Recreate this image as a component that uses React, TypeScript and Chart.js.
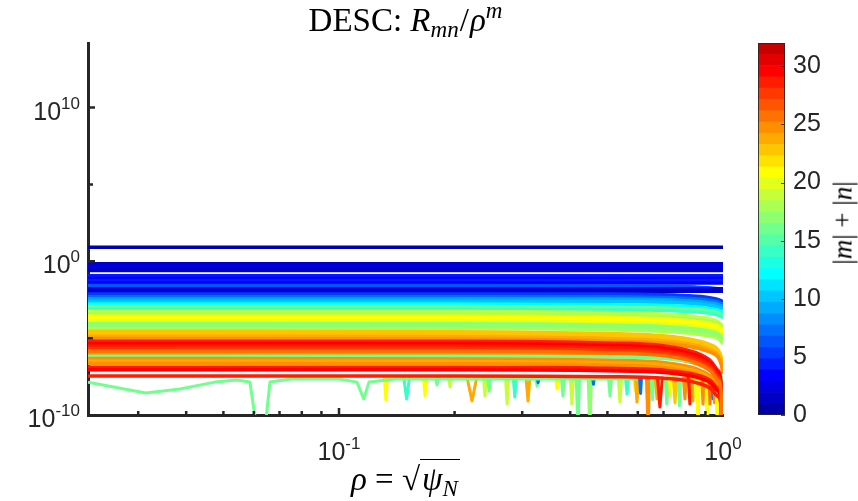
import React, { useEffect, useRef } from "react";
import { Chart, registerables } from "chart.js";

Chart.register(...registerables);

// ---------------- data ----------------
// radial grid rho = sqrt(psi_N) on which every mode is sampled
const RHO = [0.0222, 0.2, 0.5, 0.7, 0.85, 0.93, 0.97, 0.99, 1.0];

// each row: [|m|+|n|, log10(R_mn / rho^m) at every RHO value]
const BLUE_MODES = [
  [0, 0.91, 0.91, 0.91, 0.91, 0.91, 0.91, 0.91, 0.91, 0.91],
  [1, -0.16, -0.16, -0.16, -0.16, -0.16, -0.16, -0.16, -0.16, -0.16],
  [2, -0.32, -0.32, -0.32, -0.32, -0.32, -0.32, -0.32, -0.32, -0.32],
  [1, -0.47, -0.47, -0.47, -0.47, -0.47, -0.47, -0.47, -0.47, -0.47],
  [1, -0.6, -0.6, -0.6, -0.6, -0.6, -0.6, -0.6, -0.6, -0.6],
  [4, -0.94, -0.94, -0.94, -0.94, -0.94, -0.94, -0.94, -0.94, -0.94],
  [3, -1.1, -1.1, -1.1, -1.1, -1.1, -1.1, -1.1, -1.1, -1.1],
  [4, -1.26, -1.26, -1.26, -1.26, -1.26, -1.26, -1.26, -1.26, -1.26],
  [3, -1.42, -1.42, -1.42, -1.42, -1.42, -1.42, -1.42, -1.42, -1.42],
  [6, -1.58, -1.58, -1.6, -1.63, -1.68, -1.73, -1.78, -1.83, -1.86],
  [2, -1.79, -1.79, -1.79, -1.79, -1.79, -1.79, -1.79, -1.79, -1.79],
  [1, -1.95, -1.95, -1.95, -1.95, -1.95, -1.95, -1.95, -1.95, -1.95],
];

const BLUE_DROOP_MODES = [
  [5, -2.13, -2.13, -2.13, -2.18, -2.28, -2.38, -2.48, -2.58, -2.63],
  [7, -2.3, -2.3, -2.3, -2.35, -2.45, -2.55, -2.65, -2.75, -2.8],
  [9, -2.46, -2.46, -2.46, -2.51, -2.61, -2.71, -2.81, -2.91, -2.96],
  [10, -2.62, -2.62, -2.62, -2.67, -2.77, -2.87, -2.97, -3.07, -3.12],
];

const CYAN_MODES = [
  [12, -2.78, -2.78, -2.83, -2.88, -2.98, -3.08, -3.18, -3.28, -3.38],
  [16, -2.94, -2.94, -2.99, -3.04, -3.14, -3.24, -3.34, -3.44, -3.54],
  [14, -3.1, -3.1, -3.15, -3.2, -3.3, -3.4, -3.5, -3.6, -3.7],
];

const YELLOW_MODES = [
  [19, -3.26, -3.26, -3.34, -3.44, -3.61, -3.76, -3.91, -4.11, -4.26],
  [18, -3.42, -3.42, -3.5, -3.6, -3.77, -3.92, -4.07, -4.27, -4.42],
  [21, -3.58, -3.58, -3.66, -3.76, -3.93, -4.08, -4.23, -4.43, -4.58],
  [21, -3.74, -3.74, -3.82, -3.92, -4.09, -4.24, -4.39, -4.59, -4.74],
  [20, -3.9, -3.9, -3.98, -4.08, -4.25, -4.4, -4.55, -4.75, -4.9],
  [17, -4.06, -4.06, -4.14, -4.24, -4.41, -4.56, -4.71, -4.91, -5.06],
  [17, -4.22, -4.22, -4.3, -4.4, -4.57, -4.72, -4.87, -5.07, -5.22],
  [18, -4.38, -4.38, -4.46, -4.56, -4.73, -4.88, -5.03, -5.23, -5.38],
];

const ORANGE_MODES = [
  [23, -4.55, -4.58, -4.7, -4.85, -5.15, -5.45, -5.75, -6.25, -6.85],
  [23, -4.71, -4.74, -4.86, -5.01, -5.31, -5.61, -5.91, -6.41, -7.01],
  [24, -4.87, -4.9, -5.02, -5.17, -5.47, -5.77, -6.07, -6.57, -7.17],
  [25, -5.03, -5.06, -5.18, -5.33, -5.63, -5.93, -6.23, -6.73, -7.33],
];

const RED_MODES = [
  [29, -5.2, -5.2, -5.32, -5.5, -5.95, -6.5, -7.1, -8.2, -20],
  [30, -5.36, -5.36, -5.48, -5.66, -6.11, -6.66, -7.26, -8.36, -20],
  [29, -5.52, -5.52, -5.64, -5.82, -6.27, -6.82, -7.42, -8.52, -20],
  [28, -5.68, -5.68, -5.8, -5.98, -6.43, -6.98, -7.58, -8.68, -20],
  [26, -5.84, -5.84, -5.96, -6.14, -6.59, -7.14, -7.74, -8.84, -20],
];

const LOWER_MODES = [
  [25, -6.0, -6.02, -6.11, -6.26, -6.66, -7.16, -7.76, -8.86, -20],
  [16, -6.17, -6.17, -6.22, -6.32, -6.57, -6.87, -7.17, -7.57, -7.97],
  [25, -6.33, -6.35, -6.44, -6.59, -6.99, -7.49, -8.09, -9.19, -20],
  [24, -6.49, -6.51, -6.6, -6.75, -7.15, -7.65, -8.25, -9.35, -20],
  [25, -6.65, -6.67, -6.76, -6.91, -7.31, -7.81, -8.41, -9.51, -20],
  [29, -6.9, -6.9, -6.96, -7.08, -7.38, -7.78, -8.28, -9.18, -20],
  [30, -7.06, -7.06, -7.12, -7.24, -7.54, -7.94, -8.44, -9.38, -20],
  [29, -7.46, -7.46, -7.51, -7.61, -7.89, -8.29, -8.79, -9.59, -20],
];

// the low-amplitude green mode along the bottom of the band
const GREEN_K = 16;
const GREEN_RHO = [0.0222, 0.0314, 0.0385, 0.0475, 0.0542, 0.0586, 0.0612, 0.0641, 0.0661, 0.075, 0.1, 0.1114, 0.116, 0.1197, 0.14, 0.3, 0.6];
const GREEN_LOG = [-7.86, -8.57, -8.31, -7.86, -7.73, -7.86, -11, -11, -7.86, -7.66, -7.66, -7.86, -8.96, -7.86, -7.66, -7.66, -7.66];

// zero crossings of small modes: [rho at zero, half width (fraction of rho), log10 of lowest value, |m|+|n|]
const DIP_TOP = -7.5;
const DIPS = [
  [0.1325, 0.01, -9.03, 21],
  [0.15, 0.018, -8.96, 14],
  [0.1675, 0.01, -8.77, 21],
  [0.18, 0.01, -8.05, 16],
  [0.1946, 0.01, -8.18, 19],
  [0.222, 0.03, -9.09, 24],
  [0.24, 0.01, -8.77, 19],
  [0.246, 0.01, -8.44, 16],
  [0.274, 0.01, -9.29, 19],
  [0.287, 0.01, -8.83, 14],
  [0.3106, 0.012, -9.09, 24],
  [0.328, 0.01, -8.12, 16],
  [0.33, 0.006, -7.9, 7],
  [0.37, 0.01, -8.31, 21],
  [0.383, 0.01, -8.77, 16],
  [0.404, 0.01, -9.29, 19],
  [0.419, 0.01, -11, 16],
  [0.45, 0.01, -11, 17],
  [0.46, 0.006, -8.0, 7],
  [0.508, 0.01, -8.77, 16],
  [0.539, 0.01, -9.16, 19],
  [0.5625, 0.01, -8.64, 14],
  [0.59, 0.008, -8.4, 21],
  [0.597, 0.01, -9.16, 24],
  [0.61, 0.006, -8.6, 7],
  [0.638, 0.01, -11, 25],
  [0.655, 0.008, -9.0, 16],
  [0.673, 0.01, -8.96, 24],
  [0.685, 0.015, -9.48, 29],
  [0.714, 0.01, -9.29, 16],
  [0.73, 0.008, -8.8, 21],
  [0.75, 0.01, -9.22, 23],
  [0.77, 0.008, -9.4, 16],
  [0.796, 0.01, -8.96, 25],
  [0.82, 0.01, -9.29, 29],
  [0.835, 0.008, -9.09, 24],
  [0.85, 0.006, -8.8, 19],
  [0.861, 0.008, -11, 21],
  [0.887, 0.008, -9.29, 25],
  [0.909, 0.006, -11, 21],
  [0.925, 0.006, -9.29, 26],
  [0.942, 0.005, -8.96, 7],
  [0.95, 0.005, -9.2, 25],
  [0.965, 0.005, -11, 21],
];

// axes
const X_MIN = 0.0222;
const X_MAX = 1;
const X_TICKS = [0.03, 0.04, 0.05, 0.06, 0.07, 0.08, 0.09, 0.1, 0.2, 0.3, 0.4, 0.5, 0.6, 0.7, 0.8, 0.9, 1];
// [value, base, exponent]
const X_LABELS: [number, string, string][] = [[0.1, "10", "-1"], [1, "10", "0"]];
const Y_MIN_EXP = -10;
const Y_MAX_EXP = 14.2;
const Y_TICK_EXP = [-10, -5, 0, 5, 10];
// [decade, base, exponent]
const Y_LABELS: [number, string, string][] = [[-10, "10", "-10"], [0, "10", "0"], [10, "10", "10"]];

// colorbar
const CB_MAX = 32;
const CB_LEVELS = 33;
const CB_TICKS = [0, 5, 10, 15, 20, 25, 30];

// ---------------- styling ----------------
const AXIS_COLOR = "#262626";
const SANS = "'Liberation Sans', Arial, Helvetica, sans-serif";
const SERIF = "'Liberation Serif', 'Times New Roman', serif";
const LINE_W = 3.5;
const BASE_FONT = 25;
const EXP_FONT = 17;

function jetMap(m: number): number[][] {
  const n = Math.ceil(m / 4);
  const u: number[] = [];
  for (let i = 1; i <= n; i++) u.push(i / n);
  for (let i = 1; i < n; i++) u.push(1);
  for (let i = n; i >= 1; i--) u.push(i / n);
  const gOff = Math.ceil(n / 2) - (m % 4 === 1 ? 1 : 0);
  const J = Array.from({ length: m }, () => [0, 0, 0]);
  u.forEach((val, idx) => {
    const g = gOff + idx + 1;
    const r = g + n;
    const b = g - n;
    if (r >= 1 && r <= m) J[r - 1][0] = val;
    if (g >= 1 && g <= m) J[g - 1][1] = val;
    if (b >= 1 && b <= m) J[b - 1][2] = val;
  });
  return J;
}

const JET = jetMap(CB_LEVELS);
const rgb = (c: number[]) =>
  `rgb(${Math.round(c[0] * 255)},${Math.round(c[1] * 255)},${Math.round(c[2] * 255)})`;
const modeColor = (k: number) =>
  rgb(JET[Math.min(CB_LEVELS - 1, Math.floor((k / CB_MAX) * CB_LEVELS))]);

function rowDataset(row: number[]) {
  const [k, ...vals] = row;
  return {
    data: vals.map((v, i) => ({ x: RHO[i], y: Math.pow(10, v) })),
    borderColor: modeColor(k),
    borderWidth: LINE_W,
    pointRadius: 0,
    fill: false,
    cubicInterpolationMode: "monotone",
  };
}

function dipDataset(d: number[]) {
  const [rho, w, low, k] = d;
  return {
    data: [
      { x: rho * (1 - w), y: Math.pow(10, DIP_TOP) },
      { x: rho, y: Math.pow(10, low) },
      { x: rho * (1 + w), y: Math.pow(10, DIP_TOP) },
    ],
    borderColor: modeColor(k),
    borderWidth: 3,
    pointRadius: 0,
    fill: false,
    tension: 0,
  };
}

function buildDatasets() {
  const bottomToTop: any[] = [];
  DIPS.forEach((d) => bottomToTop.push(dipDataset(d)));
  bottomToTop.push({
    data: GREEN_RHO.map((r, i) => ({ x: r, y: Math.pow(10, GREEN_LOG[i]) })),
    borderColor: modeColor(GREEN_K),
    borderWidth: 3,
    pointRadius: 0,
    fill: false,
    tension: 0,
  });
  [...BLUE_MODES, ...BLUE_DROOP_MODES, ...CYAN_MODES, ...YELLOW_MODES, ...ORANGE_MODES, ...LOWER_MODES, ...RED_MODES].forEach(
    (row) => bottomToTop.push(rowDataset(row))
  );
  // Chart.js paints dataset 0 last (on top)
  return bottomToTop.reverse();
}

const near = (a: number, b: number) => Math.abs(a - b) < 1e-9 * Math.max(1, Math.abs(b));

const inwardTicks = {
  id: "inwardTicks",
  afterDraw(chart: any) {
    const { ctx, chartArea } = chart;
    const xs = chart.scales.x;
    const ys = chart.scales.y;
    ctx.save();
    ctx.strokeStyle = AXIS_COLOR;
    ctx.lineWidth = 2.5;
    ctx.beginPath();
    xs.ticks.forEach((t: any) => {
      if (near(t.value, X_MAX)) return;
      const px = xs.getPixelForValue(t.value);
      const major = X_LABELS.some(([v]) => near(v, t.value));
      ctx.moveTo(px, chartArea.bottom);
      ctx.lineTo(px, chartArea.bottom - (major ? 7 : 4));
    });
    ys.ticks.forEach((t: any) => {
      const py = ys.getPixelForValue(t.value);
      const e = Math.round(Math.log10(t.value));
      const major = Y_LABELS.some(([v]) => v === e);
      if (e === Y_MIN_EXP) return;
      ctx.moveTo(chartArea.left, py);
      ctx.lineTo(chartArea.left + (major ? 7 : 5), py);
    });
    ctx.stroke();

    // tick labels: base with raised exponent
    ctx.fillStyle = AXIS_COLOR;
    ctx.textBaseline = "alphabetic";
    ctx.textAlign = "left";
    const draw = (base: string, exp: string, ax: number, baseline: number, align: string) => {
      ctx.font = `${BASE_FONT}px ${SANS}`;
      const wb = ctx.measureText(base).width;
      ctx.font = `${EXP_FONT}px ${SANS}`;
      const we = ctx.measureText(exp).width;
      const total = wb + we;
      const x0 = align === "right" ? ax - total : ax - total / 2;
      ctx.font = `${BASE_FONT}px ${SANS}`;
      ctx.fillText(base, x0, baseline);
      ctx.font = `${EXP_FONT}px ${SANS}`;
      ctx.fillText(exp, x0 + wb, baseline - 11);
    };
    X_LABELS.forEach(([v, b, e]) => draw(b, e, xs.getPixelForValue(v), chartArea.bottom + 45, "center"));
    Y_LABELS.forEach(([d, b, e]) => draw(b, e, chartArea.left - 8, ys.getPixelForValue(Math.pow(10, d)) + 12, "right"));
    ctx.restore();
  },
};

const colorbarFrame = {
  id: "colorbarFrame",
  afterDraw(chart: any) {
    const { ctx, chartArea: a } = chart;
    const ys = chart.scales.y;
    ctx.save();
    ctx.strokeStyle = "rgba(38,38,38,0.85)";
    ctx.lineWidth = 1;
    ctx.strokeRect(a.left + 0.5, a.top + 0.5, a.right - a.left - 1, a.bottom - a.top - 1);
    ctx.beginPath();
    ys.ticks.forEach((t: any) => {
      const py = Math.round(ys.getPixelForValue(t.value)) + 0.5;
      ctx.moveTo(a.right, py);
      ctx.lineTo(a.right - 4, py);
    });
    ctx.stroke();
    ctx.restore();
  },
};

export default function App() {
  const mainRef = useRef<HTMLCanvasElement>(null);
  const cbRef = useRef<HTMLCanvasElement>(null);

  useEffect(() => {
    const main = new Chart(mainRef.current as HTMLCanvasElement, {
      type: "line",
      data: { datasets: buildDatasets() as any },
      options: {
        responsive: false,
        animation: false,
        events: [],
        layout: { padding: { left: 0, top: 43, right: 135, bottom: 0 } },
        plugins: { legend: { display: false }, tooltip: { enabled: false }, title: { display: false } },
        elements: { point: { radius: 0 }, line: { borderJoinStyle: "round" } },
        scales: {
          x: {
            type: "logarithmic",
            min: X_MIN,
            max: X_MAX,
            z: 1,
            afterFit: (s: any) => {
              s.height = 86;
            },
            afterBuildTicks: (s: any) => {
              s.ticks = X_TICKS.map((v) => ({ value: v }));
            },
            grid: { display: false, drawTicks: false },
            border: { display: true, color: AXIS_COLOR, width: 3 },
            ticks: { display: false, autoSkip: false, maxRotation: 0, minRotation: 0 },
          },
          y: {
            type: "logarithmic",
            min: Math.pow(10, Y_MIN_EXP),
            max: Math.pow(10, Y_MAX_EXP),
            z: 1,
            afterFit: (s: any) => {
              s.width = 88;
            },
            afterBuildTicks: (s: any) => {
              s.ticks = Y_TICK_EXP.map((e) => ({ value: Math.pow(10, e) }));
            },
            grid: { display: false, drawTicks: false },
            border: { display: true, color: AXIS_COLOR, width: 3 },
            ticks: { display: false, autoSkip: false },
          },
        },
      } as any,
      plugins: [inwardTicks],
    });

    const cb = new Chart(cbRef.current as HTMLCanvasElement, {
      type: "bar",
      data: {
        labels: [""],
        datasets: JET.map((c) => ({
          data: [CB_MAX / CB_LEVELS],
          backgroundColor: rgb(c),
          borderWidth: 0,
          barPercentage: 1,
          categoryPercentage: 1,
        })),
      },
      options: {
        responsive: false,
        animation: false,
        events: [],
        layout: { padding: { left: 18, top: 43, right: 0, bottom: 86 } },
        plugins: { legend: { display: false }, tooltip: { enabled: false } },
        scales: {
          x: { display: false, stacked: true },
          y: {
            stacked: true,
            position: "right",
            min: 0,
            max: CB_MAX,
            afterFit: (s: any) => {
              s.width = 73;
            },
            afterBuildTicks: (s: any) => {
              s.ticks = CB_TICKS.map((v) => ({ value: v }));
            },
            grid: { display: false, drawTicks: false },
            border: { display: false },
            ticks: { padding: 8, color: AXIS_COLOR, font: { family: SANS, size: BASE_FONT } },
          },
        },
      } as any,
      plugins: [colorbarFrame],
    });

    return () => {
      main.destroy();
      cb.destroy();
    };
  }, []);

  const sub: React.CSSProperties = { fontSize: "0.7em", verticalAlign: "-0.28em", lineHeight: 0 };
  const sup: React.CSSProperties = { fontSize: "0.7em", verticalAlign: "0.55em", lineHeight: 0 };

  return (
    <div style={{ position: "fixed", left: 0, top: 0, width: 858, height: 501, background: "#fff", overflow: "hidden" }}>
      <canvas ref={mainRef} width={858} height={501} style={{ position: "absolute", left: 0, top: 0, display: "block" }} />
      <canvas ref={cbRef} width={118} height={501} style={{ position: "absolute", left: 740, top: 0, display: "block" }} />
      <div
        style={{
          position: "absolute",
          left: 0,
          top: 5,
          width: 811,
          textAlign: "center",
          fontFamily: SERIF,
          fontSize: 33,
          lineHeight: "30px",
          color: "#000",
          whiteSpace: "nowrap",
        }}
      >
        DESC: <i>R</i>
        <sub style={sub}>
          <i>mn</i>
        </sub>
        <span style={{ margin: "0 1px" }}>/</span>
        <i>ρ</i>
        <sup style={sup}>
          <i>m</i>
        </sup>
      </div>
      <div
        style={{
          position: "absolute",
          left: 0,
          top: 464,
          width: 811,
          textAlign: "center",
          fontFamily: SERIF,
          fontSize: 33,
          lineHeight: "30px",
          color: "#000",
          whiteSpace: "nowrap",
        }}
      >
        <i>ρ</i> = √
        <span style={{ borderTop: "1.5px solid #000", paddingTop: 1, paddingLeft: 2, paddingRight: 2 }}>
          <i>ψ</i>
          <sub style={sub}>
            <i>N</i>
          </sub>
        </span>
      </div>
      <div
        style={{
          position: "absolute",
          left: 843,
          top: 223,
          transform: "translate(-50%, -50%) rotate(-90deg)",
          fontFamily: SERIF,
          fontSize: 27,
          lineHeight: "27px",
          color: "#000",
          whiteSpace: "nowrap",
        }}
      >
        |<i>m</i>| + |<i>n</i>|
      </div>
    </div>
  );
}
